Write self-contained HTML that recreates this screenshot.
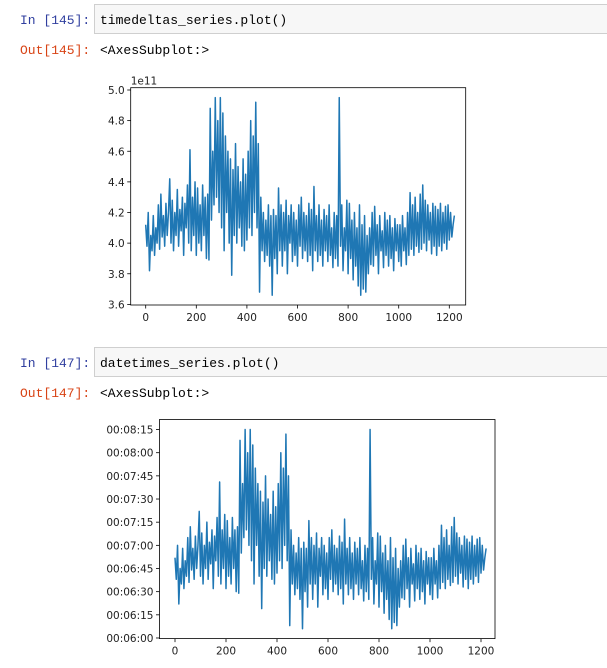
<!DOCTYPE html>
<html><head><meta charset="utf-8"><style>
body{margin:0;width:607px;height:668px;background:#fff;overflow:hidden}
svg{position:absolute;left:0;top:0}
.mono{font-family:"Liberation Mono","DejaVu Sans Mono",monospace;font-size:13px}
.tick{font-family:"DejaVu Sans","Liberation Sans",sans-serif;font-size:10.5px;fill:#222}
</style></head><body>
<svg id="pg" width="607" height="668" xmlns="http://www.w3.org/2000/svg">
 <g>
  <rect x="94.5" y="4.5" width="520" height="29" fill="#f7f7f7" stroke="#cfcfcf"/>
  <text class="mono" x="20" y="24" fill="#303f9f">In [145]:</text>
  <text class="mono" x="100" y="24" fill="#000">timedeltas_series.plot()</text>
 </g>
 <text class="mono" x="20" y="54" fill="#d84315">Out[145]:</text>
 <text class="mono" x="100" y="54" fill="#000">&lt;AxesSubplot:&gt;</text>
 <g>
  <rect x="94.5" y="347.5" width="520" height="29" fill="#f7f7f7" stroke="#cfcfcf"/>
  <text class="mono" x="20" y="367" fill="#303f9f">In [147]:</text>
  <text class="mono" x="100" y="367" fill="#000">datetimes_series.plot()</text>
 </g>
 <text class="mono" x="20" y="397" fill="#d84315">Out[147]:</text>
 <text class="mono" x="100" y="397" fill="#000">&lt;AxesSubplot:&gt;</text>
 <g id="c1"></g>
 <g id="c2"></g>
</svg>
<script>
// series values in seconds, sampled every 5 index steps
const xStep = 5;
const seriesSeconds = [
412,398,420,382,405,395,418,392,410,400,
425,396,432,404,418,398,426,405,420,442,
400,428,395,420,405,435,398,422,408,430,
392,426,410,438,400,461,395,430,405,440,
392,436,400,425,395,438,405,430,390,432,
389,488,415,460,425,495,430,480,420,495,
410,485,395,470,420,460,400,455,379,448,
405,465,400,450,410,440,398,455,395,445,
402,460,410,480,405,470,420,492,410,465,
368,430,395,420,388,415,392,425,385,418,
366,422,390,418,380,436,395,425,385,420,
395,428,380,418,400,425,388,420,392,415,
385,425,398,430,390,420,395,418,388,426,
392,422,382,437,395,418,388,425,392,415,
385,422,395,418,388,425,392,410,384,420,
390,418,385,495,398,425,382,410,395,428,
380,426,390,415,376,420,385,410,372,425,
366,412,370,418,368,405,380,410,386,420,
385,424,392,412,380,418,395,408,384,420,
392,415,385,418,390,410,382,416,395,412,
388,412,385,418,395,410,386,420,392,433,
396,425,392,430,398,420,394,432,396,438,
400,428,395,425,402,420,393,426,398,424,
392,422,398,426,395,420,400,424,396,425,
402,420,404,412,418];
const xTicks = [0,200,400,600,800,1000,1200];
const yTicks1 = [360,380,400,420,440,460,480,500];
const yTickLabels1 = ["3.6","3.8","4.0","4.2","4.4","4.6","4.8","5.0"];
const yTicks2 = [360,375,390,405,420,435,450,465,480,495];
const yTickLabels2 = ["00:06:00","00:06:15","00:06:30","00:06:45","00:07:00","00:07:15","00:07:30","00:07:45","00:08:00","00:08:15"];

const NS='http://www.w3.org/2000/svg';
function mk(parent,tag,attrs){const e=document.createElementNS(NS,tag);for(const k in attrs)e.setAttribute(k,attrs[k]);parent.appendChild(e);return e;}

function drawChart(g,box,xDom,yDom,yT,yL,offsetLabel){
  const sx=v=>box.x0+(v-xDom[0])/(xDom[1]-xDom[0])*(box.x1-box.x0);
  const sy=v=>box.y1-(v-yDom[0])/(yDom[1]-yDom[0])*(box.y1-box.y0);
  let d='';
  seriesSeconds.forEach((v,i)=>{d+=(i?'L':'M')+sx(i*xStep).toFixed(2)+','+sy(v).toFixed(2);});
  const line=mk(g,'path',{d:d,fill:'none',stroke:'#1f77b4','stroke-width':1.5,'stroke-linejoin':'round'});
  
  
  const frame=mk(g,'rect',{x:box.x0,y:box.y0,width:box.x1-box.x0,height:box.y1-box.y0,fill:'none',stroke:'#000','stroke-width':0.8});
  
  
  xTicks.forEach(t=>{
    const x=sx(t);
    mk(g,'line',{x1:x,x2:x,y1:box.y1,y2:box.y1+3.5,stroke:'#000','stroke-width':0.8});
    const tx=mk(g,'text',{x:x,y:box.y1+16,'text-anchor':'middle',class:'tick'});
    tx.textContent=t;
    
    
  });
  yT.forEach((t,i)=>{
    const y=sy(t);
    mk(g,'line',{x1:box.x0-3.5,x2:box.x0,y1:y,y2:y,stroke:'#000','stroke-width':0.8});
    const ty=mk(g,'text',{x:box.x0-6,y:y+4,'text-anchor':'end',class:'tick'});
    ty.textContent=yL[i];
    
    
  });
  if(offsetLabel){
    const o=mk(g,'text',{x:box.x0,y:box.y0-3,class:'tick'});
    o.textContent=offsetLabel;
    
    
  }
}
drawChart(document.getElementById('c1'),{x0:130.7,x1:465.7,y0:87.7,y1:305},
  [-59.3,1264.8],[359.6,501.5],yTicks1,yTickLabels1,'1e11');
drawChart(document.getElementById('c2'),{x0:159.5,x1:495,y0:419.5,y1:638.6},
  [-60.8,1254.9],[359.6,501.5],yTicks2,yTickLabels2,null);
</script>
</body></html>
